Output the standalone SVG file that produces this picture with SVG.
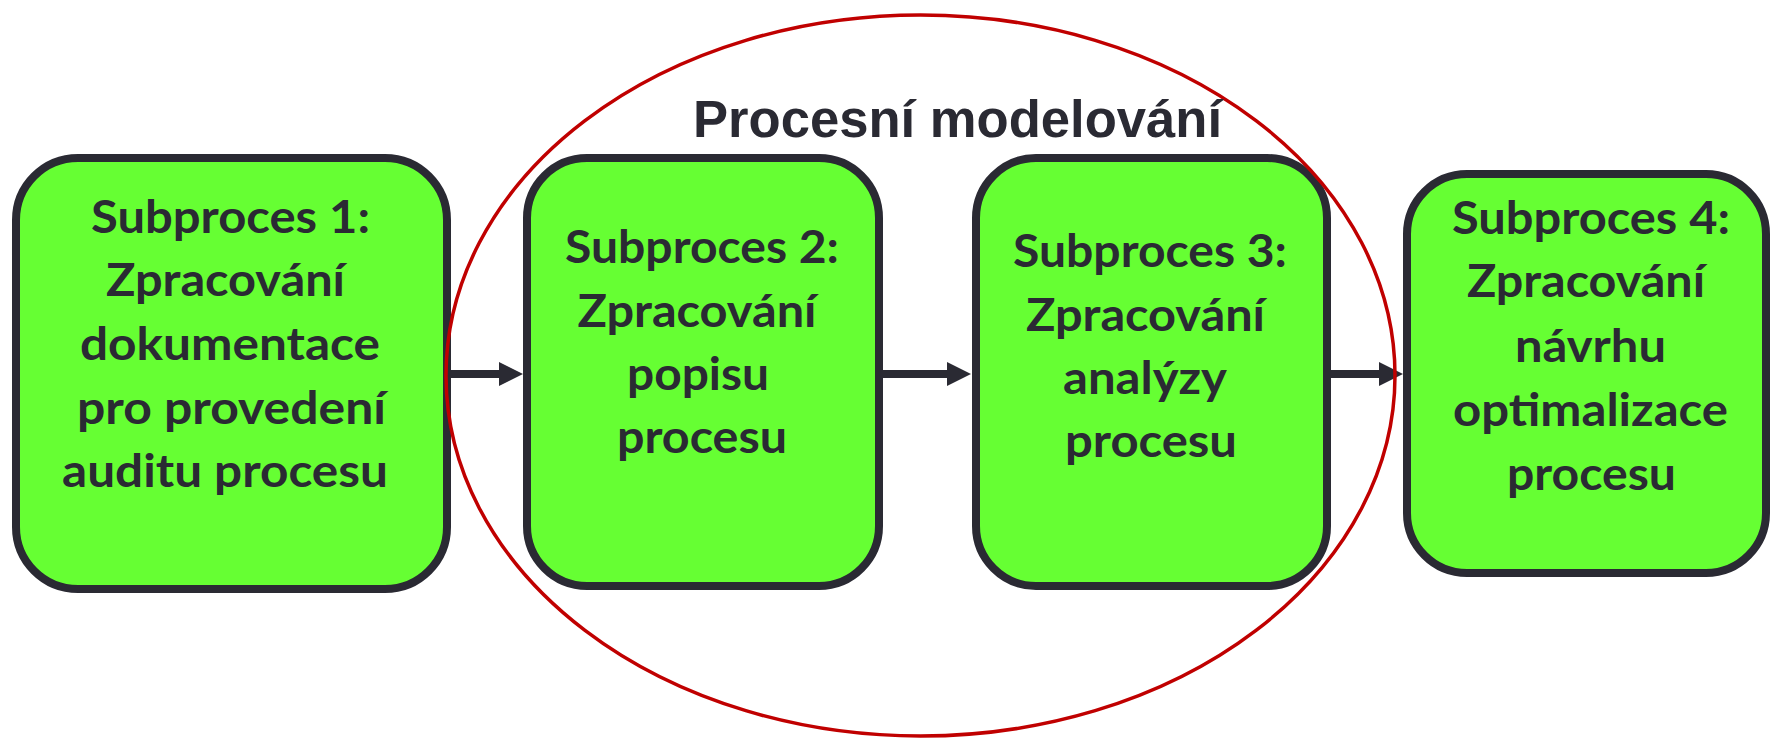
<svg xmlns="http://www.w3.org/2000/svg" width="1770" height="740" viewBox="0 0 1770 740">
  <style>
    .box { fill: #66ff33; stroke: #2a2a33; stroke-width: 8; }
    .lbl { font-family: Lato, "Noto Sans", sans-serif; font-weight: bold; font-size: 46px; fill: #2a2a33; text-anchor: middle; }
    .title { font-family: "Liberation Sans", Arial, sans-serif; font-weight: bold; font-size: 52.6px; fill: #2a2a33; text-anchor: middle; }
    .conn { stroke: #2a2a33; stroke-width: 8; fill: none; }
  </style>
  <defs>
    <marker id="arrow" markerUnits="userSpaceOnUse" markerWidth="24" markerHeight="24" refX="4" refY="12" orient="auto">
      <path d="M0,0 L24,12 L0,24 Z" fill="#2a2a33"/>
    </marker>
  </defs>
  <rect width="1770" height="740" fill="#ffffff"/>

  <g id="node1">
    <rect class="box" x="16" y="158" width="431" height="431" rx="62" ry="62"/>
    <text class="lbl" x="230.5" y="233" textLength="279" lengthAdjust="spacingAndGlyphs">Subproces 1:</text>
    <text class="lbl" x="225.5" y="296" textLength="239" lengthAdjust="spacingAndGlyphs">Zpracování</text>
    <text class="lbl" x="230" y="360" textLength="300" lengthAdjust="spacingAndGlyphs">dokumentace</text>
    <text class="lbl" x="231.5" y="424" textLength="309" lengthAdjust="spacingAndGlyphs">pro provedení</text>
    <text class="lbl" x="225" y="487" textLength="326" lengthAdjust="spacingAndGlyphs">auditu procesu</text>
  </g>

  <g id="node2">
    <rect class="box" x="527" y="158" width="352" height="428" rx="60" ry="60"/>
    <text class="lbl" x="702" y="263" textLength="274" lengthAdjust="spacingAndGlyphs">Subproces 2:</text>
    <text class="lbl" x="697" y="327" textLength="239" lengthAdjust="spacingAndGlyphs">Zpracování</text>
    <text class="lbl" x="698" y="390" textLength="142" lengthAdjust="spacingAndGlyphs">popisu</text>
    <text class="lbl" x="702" y="453" textLength="170" lengthAdjust="spacingAndGlyphs">procesu</text>
  </g>

  <g id="node3">
    <rect class="box" x="976" y="158" width="351" height="428" rx="60" ry="60"/>
    <text class="lbl" x="1150" y="267" textLength="274" lengthAdjust="spacingAndGlyphs">Subproces 3:</text>
    <text class="lbl" x="1145.5" y="331" textLength="239" lengthAdjust="spacingAndGlyphs">Zpracování</text>
    <text class="lbl" x="1145" y="394" textLength="164" lengthAdjust="spacingAndGlyphs">analýzy</text>
    <text class="lbl" x="1151" y="457" textLength="172" lengthAdjust="spacingAndGlyphs">procesu</text>
  </g>

  <g id="node4">
    <rect class="box" x="1407" y="174" width="359" height="399" rx="60" ry="60"/>
    <text class="lbl" x="1591" y="234" textLength="278" lengthAdjust="spacingAndGlyphs">Subproces 4:</text>
    <text class="lbl" x="1586" y="297" textLength="238" lengthAdjust="spacingAndGlyphs">Zpracování</text>
    <text class="lbl" x="1590.5" y="362" textLength="151" lengthAdjust="spacingAndGlyphs">návrhu</text>
    <text class="lbl" x="1590.5" y="426" textLength="275" lengthAdjust="spacingAndGlyphs">optimalizace</text>
    <text class="lbl" x="1591.5" y="490" textLength="169" lengthAdjust="spacingAndGlyphs">procesu</text>
  </g>

  <g id="connectors">
    <line class="conn" x1="451" y1="374" x2="503" y2="374" marker-end="url(#arrow)"/>
    <line class="conn" x1="883" y1="374" x2="951" y2="374" marker-end="url(#arrow)"/>
    <line class="conn" x1="1331" y1="374" x2="1383" y2="374" marker-end="url(#arrow)"/>
  </g>

  <g id="group-procesni-modelovani">
    <ellipse cx="920.5" cy="375.5" rx="474.5" ry="360.5" fill="none" stroke="#c00000" stroke-width="3.5"/>
    <text class="title" x="957.5" y="137">Procesní modelování</text>
  </g>
</svg>
